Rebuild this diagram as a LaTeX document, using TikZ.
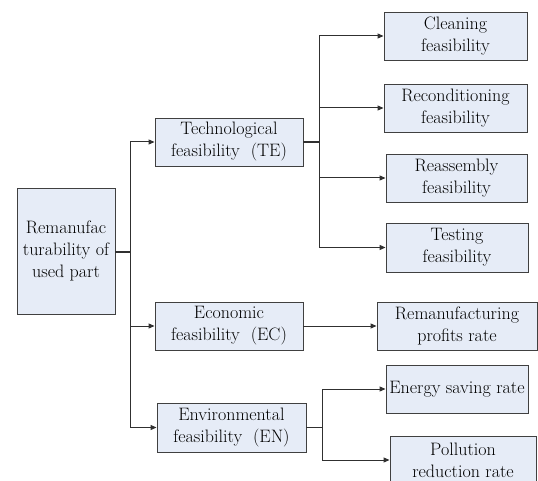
\documentclass[tikz,border=0pt]{standalone}
\usepackage{fontspec}
\usetikzlibrary{arrows.meta}
\definecolor{boxfill}{HTML}{E6ECF7}
\definecolor{boxline}{HTML}{404040}
\definecolor{conline}{HTML}{303030}
\begin{document}
\begin{tikzpicture}[x=1pt,y=-1pt,
  box/.style={draw=boxline,fill=boxfill,line width=0.9pt,rectangle,inner sep=0pt,align=center,
    font=\fontsize{18}{22}\selectfont},
  con/.style={draw=conline,line width=1pt},
  arr/.style={con,-{Triangle[length=6pt,width=5pt]}}]
\useasboundingbox (0,0) rectangle (538,481);
\fill[white] (0,0) rectangle (538,481);
\begin{scope}
\clip (0,0) rectangle (538,481);
\node[box,minimum width=98pt,minimum height=126pt] (root) at (66,251) {Remanufac\\turability of\\used part};
\node[box,minimum width=148pt,minimum height=48pt] (te) at (229,142) {Technological\\feasibility~~(TE)};
\node[box,minimum width=148pt,minimum height=48pt] (ec) at (229,326) {Economic\\feasibility~~(EC)};
\node[box,minimum width=149pt,minimum height=49pt] (en) at (231.5,427.5) {Environmental\\feasibility~~(EN)};
\node[box,minimum width=143pt,minimum height=48pt] (cl) at (455.5,36) {Cleaning\\feasibility};
\node[box,minimum width=143pt,minimum height=48pt] (rc) at (455.5,108) {Reconditioning\\feasibility};
\node[box,minimum width=141pt,minimum height=48pt] (ra) at (456.5,178) {Reassembly\\feasibility};
\node[box,minimum width=142pt,minimum height=49pt] (ts) at (457,247.5) {Testing\\feasibility};
\node[box,minimum width=160pt,minimum height=48pt] (rm) at (457,326) {Remanufacturing\\profits rate};
\node[box,minimum width=142pt,minimum height=48pt] (es) at (457,389) {Energy saving rate};
\node[box,minimum width=146pt,minimum height=48pt] (pr) at (463,460) {Pollution\\reduction rate};
\end{scope}
\coordinate (j0) at (130,252);
\coordinate (j1) at (319,142);
\coordinate (j2) at (322,427.5);
% root to level 1
\draw[con,line width=1.4pt] (root.east |- j0) -- (j0);
\draw[arr] (j0) |- (te.west);
\draw[arr] (j0) |- (ec.west);
\draw[arr] (j0) |- (en.west);
% TE children
\draw[con,line width=1.4pt] (te.east) -- (j1);
\draw[arr] (j1) |- (cl.west);
\draw[arr] (j1) |- (rc.west);
\draw[arr] (j1) |- (ra.west);
\draw[arr] (j1) |- (ts.west);
% EC child
\draw[arr] (ec.east) -- (rm.west);
% EN children
\draw[con] (en.east) -- (j2);
\draw[arr] (j2) |- (es.west);
\draw[arr] (j2) |- (pr.west);
\end{tikzpicture}
\end{document}
